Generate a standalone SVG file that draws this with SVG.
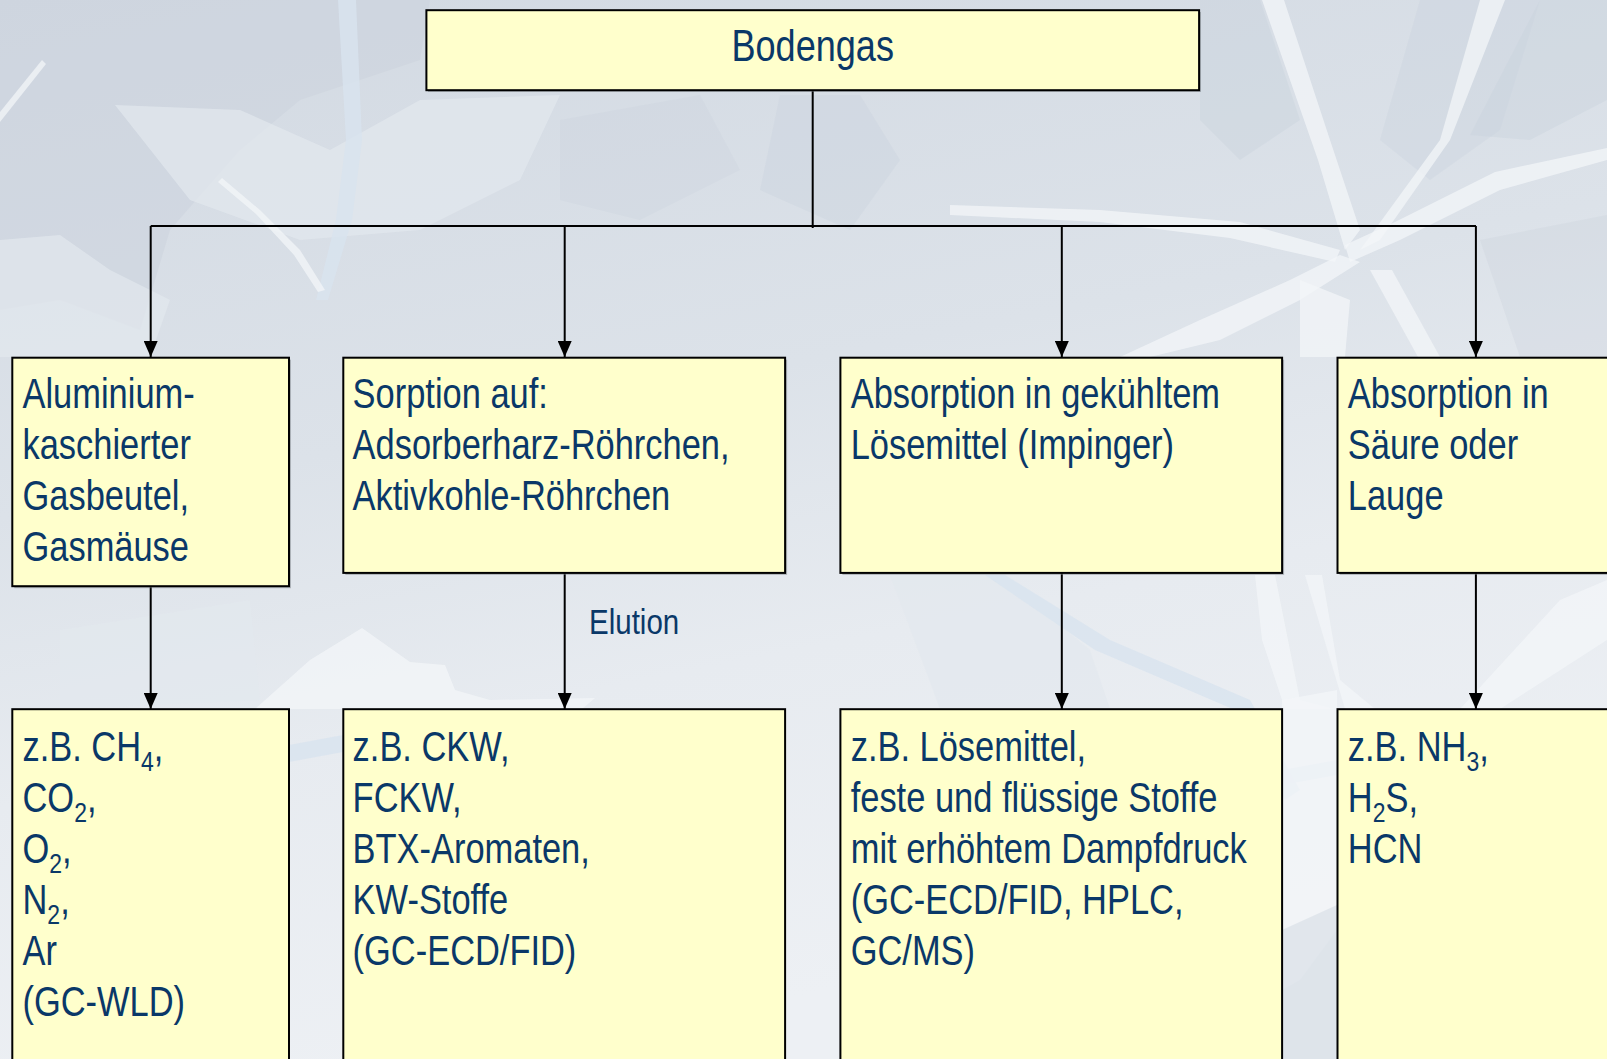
<svg xmlns="http://www.w3.org/2000/svg" width="1607" height="1059" viewBox="0 0 1607 1059">
  <defs>
    <linearGradient id="bgGrad" x1="0" y1="0" x2="0.3" y2="1">
      <stop offset="0" stop-color="#D2D9E2"/>
      <stop offset="0.45" stop-color="#DCE2E9"/>
      <stop offset="0.7" stop-color="#E7EBF0"/>
      <stop offset="1" stop-color="#EDF0F4"/>
    </linearGradient>
    <marker id="arrow" viewBox="0 0 16 14" refX="16" refY="7" markerWidth="16" markerHeight="14" markerUnits="userSpaceOnUse" orient="auto">
      <path d="M0,0 L16,7 L0,14 Z" fill="#000"/>
    </marker>
    <style>
      .box { fill: #FFFFCC; stroke: #000; stroke-width: 2; }
      .shadow { fill: #7A7F86; opacity: 0.5; }
      .lbl { font-family: 'Liberation Sans', Arial, sans-serif; font-size: 42px; fill: #0A3868; }
      .title { font-size: 44px; }
      .small { font-size: 36px; }
      .sub { font-size: 28px; }
      .wire { fill: none; stroke: #000; stroke-width: 2; }
      .streak { fill: #F3F5F8; opacity: 0.75; }
      .streakB { fill: #D8E3EF; opacity: 0.8; }
      .shard { fill: #C9D1DC; }
      .pale { fill: #E3E8EE; opacity: 0.7; }
    </style>
  </defs>

  <!-- background -->
  <g id="background">
    <rect x="0" y="0" width="1607" height="1059" fill="url(#bgGrad)"/>
    <!-- darker shards -->
    <polygon class="shard" points="0,0 430,0 420,60 300,100 240,150 170,230 140,330 60,300 0,310" opacity="0.45"/>
    <polygon class="shard" points="1200,0 1260,0 1300,120 1240,160 1200,120" opacity="0.4"/>
    <polygon class="shard" points="1420,0 1540,0 1500,130 1430,180 1380,140" opacity="0.35"/>
    <polygon class="shard" points="1540,0 1607,0 1607,100 1530,140 1470,135" opacity="0.4"/>
    <polygon class="shard" points="780,95 860,95 900,160 850,230 760,190" opacity="0.35"/>
    <polygon class="shard" points="560,120 700,95 740,170 640,220 560,200" opacity="0.25"/>
    <polygon class="shard" points="1480,240 1607,215 1607,357 1520,357" opacity="0.3"/>
    <!-- pale areas -->
    <polygon class="pale" points="0,240 60,235 110,270 170,300 150,357 0,357"/>
    <polygon class="pale" points="115,105 240,110 330,150 420,100 560,95 520,180 420,230 300,240 190,200"/>
    <polygon class="pale" points="60,630 250,600 260,700 60,709"/>
    <polygon class="pale" points="890,575 1000,575 1090,650 1110,709 940,709"/>
    <!-- light bluish streaks -->
    <polygon class="streakB" points="338,0 356,0 362,140 352,220 328,300 316,300 336,220 346,140"/>
    <polygon class="streakB" points="985,575 1005,575 1110,640 1250,700 1300,790 1285,800 1235,710 1095,650"/>
    <polygon class="streakB" points="289,745 343,735 343,752 289,762"/>
    <polygon class="streakB" points="1282,770 1337,760 1337,775 1282,785"/>
    <!-- white streaks -->
    <polygon class="streak" points="0,112 42,60 46,64 0,122"/>
    <polygon class="streak" points="222,178 260,210 300,250 325,290 318,292 294,255 256,214 218,182"/>
    <polygon class="streak" points="1262,0 1284,0 1330,140 1360,230 1345,250 1318,160"/>
    <polygon class="streak" points="1480,0 1505,0 1450,140 1380,240 1360,250 1440,140"/>
    <polygon class="streak" points="1607,148 1607,160 1500,190 1400,240 1350,262 1345,245 1395,222 1495,172"/>
    <polygon class="streak" points="950,205 1100,210 1240,222 1340,250 1335,262 1230,238 1100,222 950,215"/>
    <polygon class="streak" points="1340,255 1360,262 1300,300 1220,340 1150,357 1120,357 1200,320 1290,280"/>
    <polygon class="streak" points="1370,270 1392,270 1440,357 1418,357"/>
    <polygon class="streak" points="1300,280 1350,300 1345,357 1300,357"/>
    <polygon class="streak" points="1255,575 1275,575 1300,700 1335,709 1320,709 1285,709 1262,640"/>
    <polygon class="streak" points="1305,575 1322,575 1340,680 1375,709 1345,709"/>
    <polygon class="streak" points="1560,600 1607,580 1607,640 1500,709 1460,709"/>
    <polygon class="streak" points="255,709 310,660 362,628 410,662 445,665 455,690 490,700 595,698 582,709"/>
    <polygon class="streak" points="1282,700 1337,690 1337,930 1300,980 1282,990"/>
    <polygon class="shard" points="1282,930 1337,905 1337,1059 1282,1059" opacity="0.4"/>
  </g>

  <!-- connectors -->
  <g id="connectors">
    <path class="wire" d="M812.7,90 V228"/>
    <path class="wire" d="M150.7,226 H1476"/>
    <path class="wire" d="M150.7,226 V357" marker-end="url(#arrow)"/>
    <path class="wire" d="M564.7,226 V357" marker-end="url(#arrow)"/>
    <path class="wire" d="M1061.8,226 V357" marker-end="url(#arrow)"/>
    <path class="wire" d="M1475.9,226 V357" marker-end="url(#arrow)"/>
    <path class="wire" d="M150.7,586 V709" marker-end="url(#arrow)"/>
    <path class="wire" d="M564.7,573 V709" marker-end="url(#arrow)"/>
    <path class="wire" d="M1061.8,573 V709" marker-end="url(#arrow)"/>
    <path class="wire" d="M1475.9,573 V709" marker-end="url(#arrow)"/>
    <text class="lbl small" transform="matrix(0.82,0,0,1,589,634)">Elution</text>
  </g>

  <!-- top node -->
  <g id="bodengas">
    <rect class="shadow" x="428" y="12" width="773" height="80"/>
    <rect class="box" x="426.4" y="10.2" width="772.7" height="80"/>
    <text class="lbl title" text-anchor="middle" transform="matrix(0.82,0,0,1,812.7,61)">Bodengas</text>
  </g>

  <!-- sampling methods -->
  <g id="gasbeutel">
    <rect class="shadow" x="14.3" y="359.7" width="276.7" height="228.5"/>
    <rect class="box" x="12.3" y="357.7" width="276.7" height="228.5"/>
    <text class="lbl" transform="matrix(0.82,0,0,1,22.5,408)">Aluminium-</text>
    <text class="lbl" transform="matrix(0.82,0,0,1,22.5,459)">kaschierter</text>
    <text class="lbl" transform="matrix(0.82,0,0,1,22.5,510)">Gasbeutel,</text>
    <text class="lbl" transform="matrix(0.82,0,0,1,22.5,561)">Gasmäuse</text>
  </g>

  <g id="sorption">
    <rect class="shadow" x="345.3" y="359.7" width="441.8" height="215.2"/>
    <rect class="box" x="343.3" y="357.7" width="441.8" height="215.2"/>
    <text class="lbl" transform="matrix(0.82,0,0,1,352.6,408)">Sorption auf:</text>
    <text class="lbl" transform="matrix(0.82,0,0,1,352.6,459)">Adsorberharz-Röhrchen,</text>
    <text class="lbl" transform="matrix(0.82,0,0,1,352.6,510)">Aktivkohle-Röhrchen</text>
  </g>

  <g id="impinger">
    <rect class="shadow" x="842.4" y="359.7" width="441.7" height="215.2"/>
    <rect class="box" x="840.4" y="357.7" width="441.7" height="215.2"/>
    <text class="lbl" transform="matrix(0.82,0,0,1,850.7,408)">Absorption in gekühltem</text>
    <text class="lbl" transform="matrix(0.82,0,0,1,850.7,459)">Lösemittel (Impinger)</text>
  </g>

  <g id="saeure">
    <rect class="shadow" x="1339.5" y="359.7" width="290" height="215.2"/>
    <rect class="box" x="1337.5" y="357.7" width="290" height="215.2"/>
    <text class="lbl" transform="matrix(0.82,0,0,1,1347.8,408)">Absorption in</text>
    <text class="lbl" transform="matrix(0.82,0,0,1,1347.8,459)">Säure oder</text>
    <text class="lbl" transform="matrix(0.82,0,0,1,1347.8,510)">Lauge</text>
  </g>

  <!-- analytes -->
  <g id="gase">
    <rect class="box" x="12.3" y="709.2" width="276.7" height="370"/>
    <text class="lbl" transform="matrix(0.82,0,0,1,22.5,761)">z.B. CH<tspan class="sub" dy="10">4</tspan><tspan dy="-10">,</tspan></text>
    <text class="lbl" transform="matrix(0.82,0,0,1,22.5,812)">CO<tspan class="sub" dy="10">2</tspan><tspan dy="-10">,</tspan></text>
    <text class="lbl" transform="matrix(0.82,0,0,1,22.5,863)">O<tspan class="sub" dy="10">2</tspan><tspan dy="-10">,</tspan></text>
    <text class="lbl" transform="matrix(0.82,0,0,1,22.5,914)">N<tspan class="sub" dy="10">2</tspan><tspan dy="-10">,</tspan></text>
    <text class="lbl" transform="matrix(0.82,0,0,1,22.5,965)">Ar</text>
    <text class="lbl" transform="matrix(0.82,0,0,1,22.5,1016)">(GC-WLD)</text>
  </g>

  <g id="ckw">
    <rect class="box" x="343.3" y="709.2" width="441.8" height="370"/>
    <text class="lbl" transform="matrix(0.82,0,0,1,352.6,761)">z.B. CKW,</text>
    <text class="lbl" transform="matrix(0.82,0,0,1,352.6,812)">FCKW,</text>
    <text class="lbl" transform="matrix(0.82,0,0,1,352.6,863)">BTX-Aromaten,</text>
    <text class="lbl" transform="matrix(0.82,0,0,1,352.6,914)">KW-Stoffe</text>
    <text class="lbl" transform="matrix(0.82,0,0,1,352.6,965)">(GC-ECD/FID)</text>
  </g>

  <g id="loesemittel">
    <rect class="box" x="840.4" y="709.2" width="441.7" height="370"/>
    <text class="lbl" transform="matrix(0.82,0,0,1,850.7,761)">z.B. Lösemittel,</text>
    <text class="lbl" transform="matrix(0.82,0,0,1,850.7,812)">feste und flüssige Stoffe</text>
    <text class="lbl" transform="matrix(0.82,0,0,1,850.7,863)">mit erhöhtem Dampfdruck</text>
    <text class="lbl" transform="matrix(0.82,0,0,1,850.7,914)">(GC-ECD/FID, HPLC,</text>
    <text class="lbl" transform="matrix(0.82,0,0,1,850.7,965)">GC/MS)</text>
  </g>

  <g id="anorganisch">
    <rect class="box" x="1337.5" y="709.2" width="290" height="370"/>
    <text class="lbl" transform="matrix(0.82,0,0,1,1347.8,761)">z.B. NH<tspan class="sub" dy="10">3</tspan><tspan dy="-10">,</tspan></text>
    <text class="lbl" transform="matrix(0.82,0,0,1,1347.8,812)">H<tspan class="sub" dy="10">2</tspan><tspan dy="-10">S,</tspan></text>
    <text class="lbl" transform="matrix(0.82,0,0,1,1347.8,863)">HCN</text>
  </g>
</svg>
